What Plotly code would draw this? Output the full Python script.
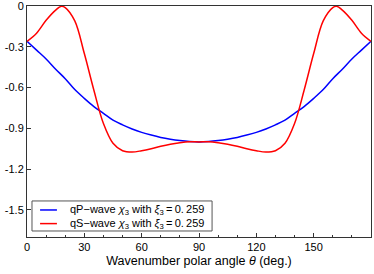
import plotly.graph_objects as go

theta = [0, 5, 10, 15, 18, 20, 25, 30, 35, 40, 45, 50, 55, 60, 65, 70, 75, 80, 85, 90,
         95, 100, 105, 110, 115, 120, 125, 130, 135, 140, 145, 150, 155, 160, 162, 165, 170, 175, 180]

qp_theta = [0, 5, 10, 15, 20, 25, 30, 35, 40, 45, 50, 55, 60, 65, 70, 75, 80, 85, 90,
            95, 100, 105, 110, 115, 120, 125, 130, 135, 140, 145, 150, 155, 160, 165, 170, 175, 180]
qp_vals = [-0.26, -0.325, -0.39, -0.465, -0.535, -0.615, -0.68, -0.74, -0.79, -0.84,
           -0.875, -0.905, -0.93, -0.95, -0.967, -0.98, -0.99, -0.997, -1.0,
           -0.997, -0.99, -0.98, -0.967, -0.95, -0.93, -0.905, -0.875, -0.84, -0.79,
           -0.74, -0.68, -0.615, -0.535, -0.465, -0.39, -0.325, -0.26]

qs_vals = [-0.26, -0.20, -0.105, -0.03, -0.002, -0.012, -0.11, -0.35, -0.62, -0.865,
           -1.01, -1.065, -1.075, -1.065, -1.05, -1.032, -1.017, -1.006, -0.999, -1.0,
           -0.999, -1.006, -1.017, -1.032, -1.05, -1.065, -1.075, -1.065, -1.01, -0.865,
           -0.62, -0.35, -0.11, -0.012, -0.002, -0.03, -0.105, -0.20, -0.26]

x_ticks = [0, 30, 60, 90, 120, 150]
y_ticks = [0, -0.3, -0.6, -0.9, -1.2, -1.5]
y_ticklabels = ["0", "-0.3", "-0.6", "-0.9", "-1.2", "-1.5"]

series_names = [
    "qP\u2212wave <i>\u03c7</i><sub>3</sub> with <i>\u03be</i><sub>3</sub>\u2009=\u20090.\u2009259",
    "qS\u2212wave <i>\u03c7</i><sub>3</sub> with <i>\u03be</i><sub>3</sub>\u2009=\u20090.\u2009259",
]
series_colors = ["#0000ff", "#ff0000"]

fig = go.Figure()
fig.add_trace(go.Scatter(x=qp_theta, y=qp_vals, mode="lines", showlegend=False,
                         line=dict(color=series_colors[0], width=1.5, shape="spline", smoothing=1.0),
                         name=series_names[0]))
fig.add_trace(go.Scatter(x=theta, y=qs_vals, mode="lines", showlegend=False,
                         line=dict(color=series_colors[1], width=1.5, shape="spline", smoothing=1.0),
                         name=series_names[1]))

# compact legend box drawn as layout decorations (paper coordinates)
legend_rows_y = [0.117, 0.058]
shapes = [dict(type="rect", xref="paper", yref="paper", x0=0.0145, x1=0.538, y0=0.026, y1=0.156,
               line=dict(color="#555555", width=1), fillcolor="white", layer="above")]
annotations = []
for yy, name, col in zip(legend_rows_y, series_names, series_colors):
    shapes.append(dict(type="line", xref="paper", yref="paper", x0=0.038, x1=0.087, y0=yy, y1=yy,
                       line=dict(color=col, width=1.5), layer="above"))
    annotations.append(dict(text=name, xref="paper", yref="paper", x=0.118, y=yy,
                            xanchor="left", yanchor="middle", showarrow=False,
                            font=dict(size=11, color="black")))

fig.update_layout(
    width=374, height=274,
    margin=dict(l=27, r=3, t=6, b=37, autoexpand=False),
    paper_bgcolor="white", plot_bgcolor="white",
    font=dict(family="Liberation Sans, Arial, sans-serif", size=11, color="black"),
    showlegend=False,
    shapes=shapes, annotations=annotations,
)
fig.update_xaxes(range=[0, 180], tickvals=x_ticks, ticks="inside", ticklen=4,
                 tickcolor="#333333", showgrid=False, zeroline=False, automargin=False,
                 ticklabeloverflow="allow",
                 showline=True, linecolor="#333333", linewidth=1, mirror=True,
                 minor=dict(dtick=10, ticks="inside", ticklen=2, tickcolor="#333333"),
                 title=dict(text="Wavenumber polar angle <i>\u03b8</i> (deg.)", font=dict(size=12.5), standoff=4))
fig.update_yaxes(range=[-1.7, 0], tickvals=y_ticks, ticktext=y_ticklabels, ticks="inside",
                 ticklen=4, tickcolor="#333333", showgrid=False, zeroline=False, automargin=False,
                 ticklabeloverflow="allow",
                 showline=True, linecolor="#333333", linewidth=1, mirror=True)

fig.write_html("out.html", post_script="document.body.style.margin='0';",
               config={"displayModeBar": False})
